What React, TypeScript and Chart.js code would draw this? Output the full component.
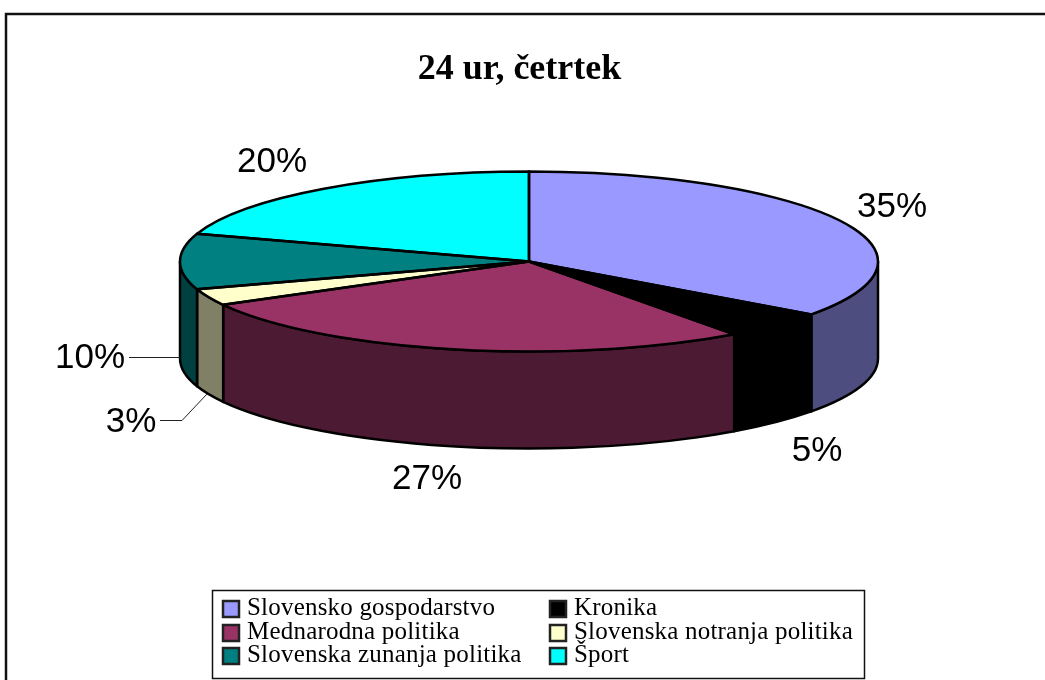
import React, { useEffect, useRef } from "react";
import { Chart, registerables } from "chart.js";

Chart.register(...registerables);

const TITLE = "24 ur, četrtek";
const categories = [
  "Slovensko gospodarstvo",
  "Kronika",
  "Mednarodna politika",
  "Slovenska notranja politika",
  "Slovenska zunanja politika",
  "Šport",
];
const shares = [35, 5, 27, 3, 10, 20];
const topColors = ["#9999FF", "#000000", "#993366", "#FFFFCC", "#008080", "#00FFFF"];
const wallColors = ["#4D4D80", "#000000", "#4D1A33", "#808066", "#004040", "#008080"];

const ELLIPSE = { cx: 529, cy: 261.5, rx: 349, ry: 90, depth: 97 };

const dataLabelAt: [number, number][] = [
  [892, 217],
  [817, 461],
  [427, 489],
  [131, 432],
  [90, 368],
  [272, 172],
];
const leaders: [number, number][][] = [
  [[160, 420.5], [182, 420.5], [207, 394]],
  [[129, 357.5], [180, 357.5]],
];

const pie3d = {
  id: "pie3d",
  beforeDraw(chart: any) {
    const { ctx, width, height } = chart;
    ctx.save();
    ctx.fillStyle = "#FFFFFF";
    ctx.fillRect(0, 0, width, height);
    ctx.strokeStyle = "#111111";
    ctx.lineWidth = 2.5;
    ctx.strokeRect(6, 14, width + 20, height + 20);
    ctx.restore();
  },
  beforeDatasetsDraw(chart: any) {
    const { ctx } = chart;
    const arcs = chart.getDatasetMeta(0).data;
    const { cx, cy, rx, ry, depth } = ELLIPSE;
    ctx.save();
    ctx.lineWidth = 2.5;
    ctx.strokeStyle = "#000000";
    ctx.lineJoin = "round";
    arcs.forEach((arc: any, i: number) => {
      // Only the front half of the rim (canvas angles 0..PI) is visible.
      const from = Math.max(arc.startAngle, 0);
      const to = Math.min(arc.endAngle, Math.PI);
      if (to <= from) return;
      ctx.beginPath();
      ctx.ellipse(cx, cy, rx, ry, 0, from, to);
      ctx.ellipse(cx, cy + depth, rx, ry, 0, to, from, true);
      ctx.closePath();
      ctx.fillStyle = wallColors[i];
      ctx.fill();
      ctx.stroke();
    });
    ctx.restore();

    const R = arcs[0].outerRadius;
    ctx.save();
    ctx.translate(cx, cy);
    ctx.scale(rx / R, ry / R);
    ctx.translate(-arcs[0].x, -arcs[0].y);
  },
  afterDatasetsDraw(chart: any) {
    const { ctx } = chart;
    ctx.restore();
    const arcs = chart.getDatasetMeta(0).data;
    const { cx, cy, rx, ry } = ELLIPSE;

    ctx.save();
    ctx.lineWidth = 2.5;
    ctx.strokeStyle = "#000000";
    ctx.lineJoin = "round";
    arcs.forEach((arc: any) => {
      ctx.beginPath();
      ctx.moveTo(cx, cy);
      ctx.ellipse(cx, cy, rx, ry, 0, arc.startAngle, arc.endAngle);
      ctx.closePath();
      ctx.stroke();
    });
    ctx.restore();

    // Percent labels and leader lines
    ctx.save();
    ctx.fillStyle = "#000000";
    ctx.font = '35px "Liberation Sans"';
    ctx.textAlign = "center";
    ctx.textBaseline = "alphabetic";
    shares.forEach((v, i) => {
      ctx.fillText(`${v}%`, dataLabelAt[i][0], dataLabelAt[i][1]);
    });
    ctx.lineWidth = 1;
    ctx.strokeStyle = "#222222";
    leaders.forEach((pts) => {
      ctx.beginPath();
      pts.forEach(([x, y], k) => (k ? ctx.lineTo(x, y) : ctx.moveTo(x, y)));
      ctx.stroke();
    });
    ctx.restore();

    // Two-column legend
    ctx.save();
    ctx.fillStyle = "#FFFFFF";
    ctx.strokeStyle = "#111111";
    ctx.lineWidth = 1.5;
    ctx.fillRect(212.5, 590.5, 652, 88);
    ctx.strokeRect(212.5, 590.5, 652, 88);
    const rowBase = [615, 639, 662];
    const colSwatch = [223, 550];
    const colText = [247, 574];
    ctx.font = '25px "Liberation Serif"';
    (ctx as any).letterSpacing = "0.2px";
    ctx.textAlign = "left";
    categories.forEach((name, i) => {
      const col = i % 2;
      const row = Math.floor(i / 2);
      ctx.fillStyle = topColors[i];
      ctx.fillRect(colSwatch[col], rowBase[row] - 14, 16, 16);
      ctx.strokeStyle = "#222222";
      ctx.lineWidth = 2.5;
      ctx.strokeRect(colSwatch[col], rowBase[row] - 14, 16, 16);
      ctx.fillStyle = "#000000";
      ctx.fillText(name, colText[col], rowBase[row]);
    });
    ctx.restore();
  },
};

export default function App() {
  const ref = useRef<HTMLCanvasElement | null>(null);
  useEffect(() => {
    const chart = new Chart(ref.current as HTMLCanvasElement, {
      type: "pie",
      data: {
        labels: categories,
        datasets: [
          {
            data: shares,
            backgroundColor: topColors,
            borderWidth: 0,
            clip: false,
          } as any,
        ],
      },
      options: {
        animation: false,
        responsive: false,
        layout: { padding: { top: 48, right: 6 } },
        plugins: {
          legend: { display: false },
          tooltip: { enabled: false },
          title: {
            display: true,
            text: TITLE,
            color: "#000000",
            font: { family: '"Liberation Serif"', size: 36, weight: "bold" },
            padding: { top: 0, bottom: 10 },
          },
        },
      },
      plugins: [pie3d],
    });
    return () => chart.destroy();
  }, []);
  return (
    <div style={{ position: "fixed", left: 0, top: 0, width: 1045, height: 680 }}>
      <canvas ref={ref} width={1045} height={680} style={{ display: "block" }} />
    </div>
  );
}
